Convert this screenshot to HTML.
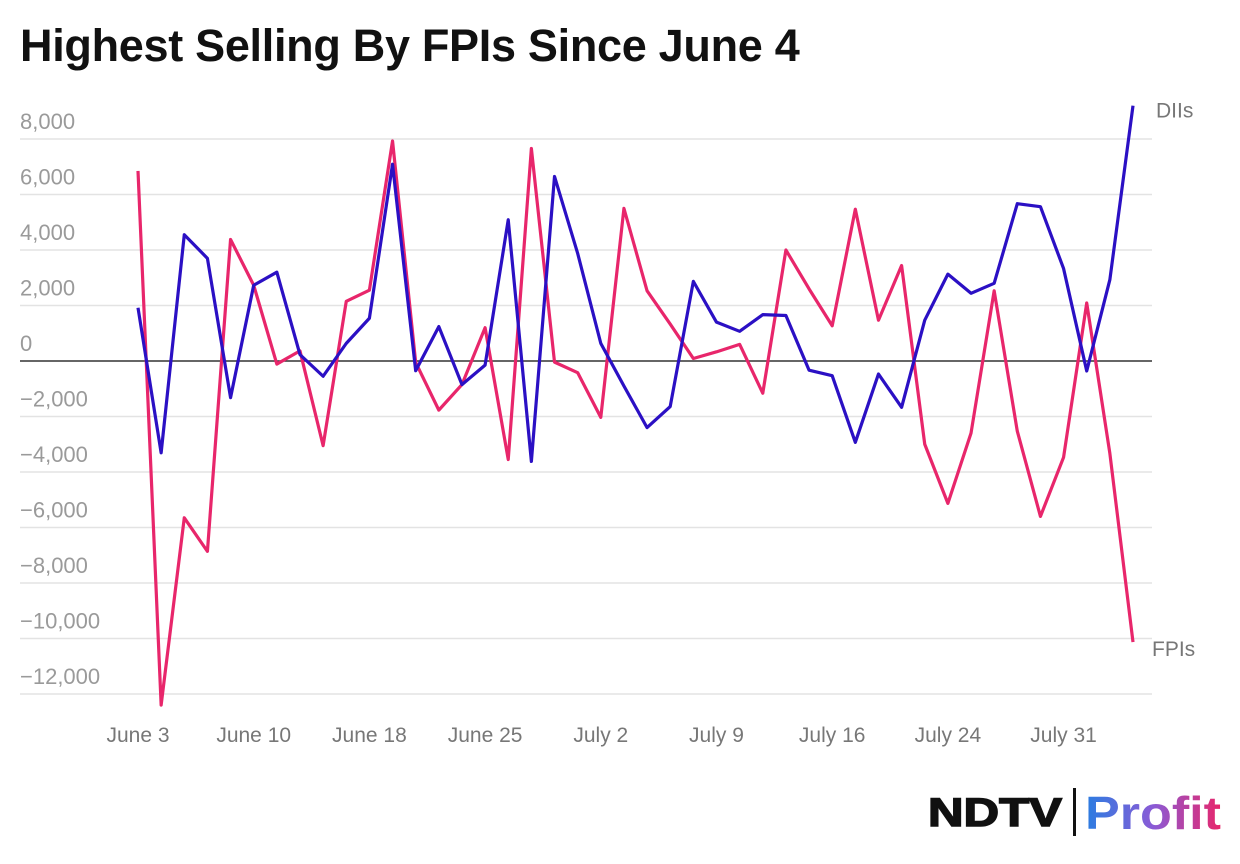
<!DOCTYPE html>
<html><head><meta charset="utf-8"><style>
body{margin:0;background:#fff;width:1240px;height:864px;overflow:hidden;font-family:"Liberation Sans",sans-serif}
h1{position:absolute;left:20px;top:20px;margin:0;font-size:45px;font-weight:bold;color:#111;letter-spacing:-0.3px}
svg{position:absolute;left:0;top:0}
</style></head><body>
<h1>Highest Selling By FPIs Since June 4</h1>
<svg id="c" width="1240" height="864"></svg>
<script>
const fpis=[6850,-12400,-5650,-6860,4380,2730,-110,365,-3050,2150,2550,7930,-50,-1770,-850,1200,-3550,7660,-40,-420,-2030,5500,2530,1330,90,330,600,-1160,4000,2600,1270,5470,1470,3440,-3000,-5130,-2600,2530,-2530,-5600,-3470,2090,-3330,-10130];
const diis=[1920,-3310,4550,3700,-1320,2730,3200,230,-550,635,1540,7090,-350,1240,-850,-150,5090,-3620,6650,3880,635,-900,-2400,-1640,2870,1400,1070,1670,1640,-330,-530,-2930,-470,-1670,1470,3130,2440,2800,5670,5560,3330,-360,2930,9200];
const yTicks=[8000,6000,4000,2000,0,-2000,-4000,-6000,-8000,-10000,-12000];
const xLabels=["June 3","June 10","June 18","June 25","July 2","July 9","July 16","July 24","July 31"];
const xLabelIdx=[0,5,10,15,20,25,30,35,40];
const NS="http://www.w3.org/2000/svg",svg=document.getElementById('c');
const y=v=>361-v*(333/12000);
const x=i=>138+i*((1133-138)/43);
function mk(t,a){const e=document.createElementNS(NS,t);for(const k in a)e.setAttribute(k,a[k]);svg.appendChild(e);return e;}
yTicks.forEach(v=>{
 const l=mk('line',{x1:20,x2:1152,y1:y(v),y2:y(v),stroke:v===0?'#333':'#e3e3e3','stroke-width':1.5});
 
 
 const t=mk('text',{x:20,y:y(v)-10,fill:'#9a9a9a','font-size':22,'font-family':'Liberation Sans, sans-serif'});
 t.textContent=v===0?'0':(v<0?'−':'')+Math.abs(v).toLocaleString('en-US');
 
 
});
xLabels.forEach((s,k)=>{
 const t=mk('text',{x:x(xLabelIdx[k]),y:742,fill:'#777','font-size':21,'text-anchor':'middle','font-family':'Liberation Sans, sans-serif'});
 t.textContent=s;
 
 
});
function line(d,c,n){
 const p=mk('polyline',{points:d.map((v,i)=>x(i)+','+y(v)).join(' '),fill:'none',stroke:c,'stroke-width':3.2,'stroke-linejoin':'round'});
 
 
}
line(fpis,'#e8266b','fpis-line');
line(diis,'#2b10c4','diis-line');
const a=mk('text',{x:1156,y:y(diis[diis.length-1])+12,fill:'#777','font-size':21,'font-family':'Liberation Sans, sans-serif'});a.textContent='DIIs';


const b=mk('text',{x:1152,y:y(fpis[fpis.length-1])+14,fill:'#777','font-size':21,'font-family':'Liberation Sans, sans-serif'});b.textContent='FPIs';


</script>
<svg width="1240" height="864">
<defs><linearGradient id="g" x1="0" x2="1"><stop offset="0" stop-color="#2a7de1"/><stop offset="0.5" stop-color="#8a5bd6"/><stop offset="1" stop-color="#e8266b"/></linearGradient></defs>
<text x="928" y="826" font-size="40" font-weight="bold" font-family="Liberation Sans, sans-serif" fill="#111" stroke="#111" stroke-width="1.5" textLength="134" lengthAdjust="spacingAndGlyphs">NDTV</text>
<rect x="1073" y="788" width="3" height="48" fill="#111"/>
<text x="1085" y="829" font-size="46" font-weight="bold" font-family="Liberation Sans, sans-serif" fill="url(#g)" textLength="136" lengthAdjust="spacingAndGlyphs">Profit</text>
</svg>
</body></html>
